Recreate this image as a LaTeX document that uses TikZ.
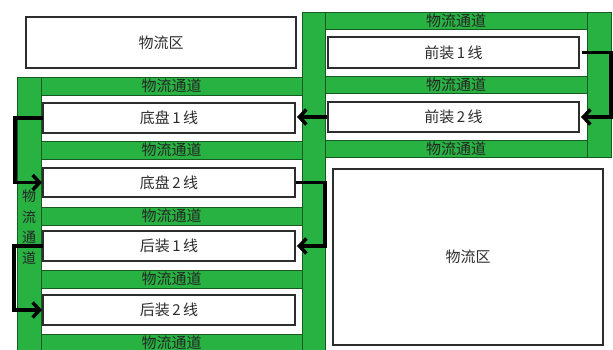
\documentclass[tikz,border=0pt]{standalone}
\usepackage{fontspec}
\newfontfamily\cjk{Noto Sans CJK SC}
\usetikzlibrary{arrows.meta}
\definecolor{chgreen}{RGB}{40,178,66}
\definecolor{chedge}{RGB}{25,90,35}
\definecolor{txt}{RGB}{45,45,45}
\begin{document}
\begin{tikzpicture}[x=1pt,y=-1pt,
  green/.style={draw=chedge, line width=0.7pt, fill=chgreen, inner sep=0pt, outer sep=0pt, anchor=north west},
  chan/.style={green, font=\cjk\fontsize{15}{15}\selectfont, text=black!85},
  wbox/.style={draw=txt, line width=1.3pt, fill=white, inner sep=0pt, outer sep=0pt, anchor=north west, font=\cjk\fontsize{15}{15}\selectfont, text=txt},
  flow/.style={line width=3.5pt, -{Straight Barb[length=7pt,width=15pt,line width=3.5pt]}}
]
\useasboundingbox (0,0) rectangle (613,349);
\clip (0,0) rectangle (613,349);
\fill[white] (0,0) rectangle (613,349);

% green bars
\node[green, minimum width=24pt, minimum height=285pt] (lbar) at (17,77) {};
\node[green, minimum width=23pt, minimum height=350pt] (mbar) at (302,12) {};
\node[green, minimum width=24pt, minimum height=145pt] (rbar) at (587,12) {};

% left channels
\node[chan, minimum width=261pt, minimum height=18pt] (c1) at (41,77) {物流通道};
\node[chan, minimum width=261pt, minimum height=18pt] (c2) at (41,141) {物流通道};
\node[chan, minimum width=261pt, minimum height=18pt] (c3) at (41,207) {物流通道};
\node[chan, minimum width=261pt, minimum height=18pt] (c4) at (41,270) {物流通道};
\node[chan, minimum width=261pt, minimum height=18pt, anchor=north] (c5) at (171.5,334) {物流通道};

% right channels
\node[chan, minimum width=262pt, minimum height=17pt] (r1) at (325,12) {物流通道};
\node[chan, minimum width=262pt, minimum height=17pt] (r2) at (325,76) {物流通道};
\node[chan, minimum width=262pt, minimum height=17pt] (r3) at (325,140) {物流通道};

% vertical label
\node[font=\cjk\fontsize{14}{20.5}\selectfont, text=black!85, align=center, inner sep=0pt] (vlab) at (29,227) {物\\流\\通\\道};

% boxes
\node[wbox, minimum width=270pt, minimum height=51pt] (zA) at (26,17) {物流区};
\node[wbox, minimum width=270pt, minimum height=176pt] (zB) at (333,169) {物流区};
\node[wbox, minimum width=251pt, minimum height=31pt] (q1) at (328,37) {前装\,1\,线};
\node[wbox, minimum width=251pt, minimum height=30pt] (q2) at (328,102) {前装\,2\,线};
\node[wbox, minimum width=252pt, minimum height=30pt] (d1) at (43,103) {底盘\,1\,线};
\node[wbox, minimum width=252pt, minimum height=29pt] (d2) at (43,168) {底盘\,2\,线};
\node[wbox, minimum width=252pt, minimum height=30pt] (h1) at (43,231) {后装\,1\,线};
\node[wbox, minimum width=252pt, minimum height=30pt] (h2) at (43,295) {后装\,2\,线};

% flow arrows
\draw[flow] ([xshift=3pt]q1.east) -- (611,52.5) |- ([xshift=2pt]q2.east);
\draw[flow] ([xshift=-1pt]q2.west) -- ([xshift=2pt]d1.east |- q2.west);
\draw[flow] (d1.west) -- (15,118) |- ([xshift=-1pt]d2.west);
\draw[flow] ([xshift=1pt]d2.east) -- (325,182.5) |- ([xshift=2pt]h1.east);
\draw[flow] (h1.west) -- (14,246) |- ([xshift=-1pt]h2.west);
\end{tikzpicture}
\end{document}
